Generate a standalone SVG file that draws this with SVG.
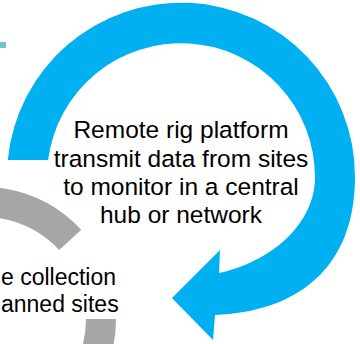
<svg xmlns="http://www.w3.org/2000/svg" width="360" height="344" viewBox="0 0 360 344">
  <style>
    .lbl { font-family: "Liberation Sans", Arial, sans-serif; font-size: 24.5px; fill: #000000; }
    .side { font-family: "Liberation Sans", Arial, sans-serif; font-size: 23px; fill: #000000; }
    .gray { fill: #A6A6A6; }
    .blue { fill: #00B0F0; }
  </style>
  <rect width="360" height="344" fill="#FFFFFF"/>
  <g id="teal-mark">
    <rect x="0" y="42" width="6" height="6" fill="#6DC2CC"/>
  </g>
  <g id="gray-ring">
    <path class="gray" d="M 81.3 229.8 A 132 132 0 0 0 -82 204.7 L -67 230.7 A 102 102 0 0 1 59.2 250.1 Z"/>
    <path class="gray" d="M 86 319 L 116 319 A 132 132 0 0 1 98.3 385 L 72.3 370 A 102 102 0 0 0 86 319 Z"/>
  </g>
  <g id="connectors">
    <path id="blue-arrow" class="blue" d="M 7.8 160 A 174 174 0 0 1 355 177 C 355 270 295 312 215 315 L 213 340 L 172 298 L 220 250 L 219 273 C 270 262 315 225 315 177 A 134 134 0 0 0 48.1 160 Z"/>
  </g>
  <g id="node-remote">
    <text class="lbl" text-anchor="middle" x="181" y="138">Remote rig platform</text>
    <text class="lbl" text-anchor="middle" x="181" y="167">transmit data from sites</text>
    <text class="lbl" text-anchor="middle" x="181" y="195">to monitor in a central</text>
    <text class="lbl" text-anchor="middle" x="181" y="223">hub or network</text>
  </g>
  <g id="node-collection">
    <text class="side" x="1" y="285">e collection</text>
    <text class="side" x="1" y="312">anned sites</text>
  </g>
</svg>
